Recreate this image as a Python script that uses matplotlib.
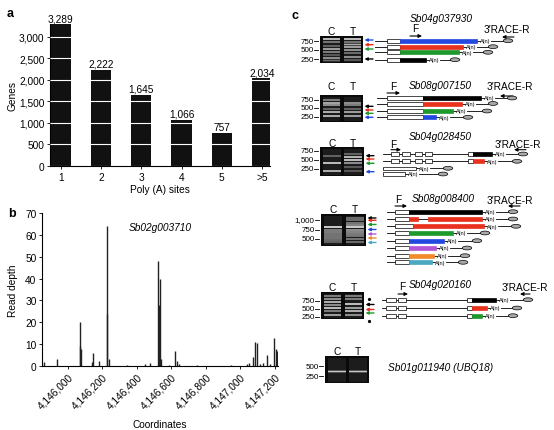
import matplotlib
matplotlib.use("Agg")
import matplotlib.pyplot as plt
from matplotlib.patches import Rectangle, Ellipse
from matplotlib.ticker import FuncFormatter

plt.rcParams["font.family"] = ["Liberation Sans", "DejaVu Sans"]
plt.rcParams["font.size"] = 7

W, H = 554, 431

# --- panel a data ---
site_labels = ["1", "2", "3", "4", "5", ">5"]
gene_counts = [3289, 2222, 1645, 1066, 757, 2034]

# --- panel b data ---
b_gene = "Sb02g003710"
peak_coords = [4145861, 4145936, 4146070, 4146072, 4146075, 4146139, 4146145,
               4146180, 4146226, 4146228, 4146238, 4146342, 4146446, 4146475,
               4146522, 4146533, 4146530, 4146539, 4146585, 4146620, 4146632,
               4146643, 4146748, 4146945, 4147038, 4147049, 4147072, 4147084,
               4147096, 4147113, 4147130, 4147154, 4147171, 4147194, 4147206,
               4147217]
peak_depths = [2, 3, 20, 9, 8, 2, 6,
               2.5, 64, 24, 3, 0.5, 1, 1.5,
               48, 40, 28, 3, 0.5, 7, 2.5,
               1, 0.5, 0.5, 1, 1.5, 4, 11,
               10.5, 1, 1.5, 5, 1, 13, 8,
               7]
coord_ticks = [4146000, 4146200, 4146400, 4146600, 4146800, 4147000, 4147200]

# --- panel c data ---
BLUE, RED, GREEN, BLACK = "#2349e0", "#e8321e", "#1e9a2c", "#000000"
PURPLE, ORANGE, TEAL = "#b455d6", "#f08a2a", "#4aa8c0"

gene_names = ["Sb04g037930", "Sb08g007150", "Sb04g028450", "Sb08g008400", "Sb04g020160"]
control_name = "Sb01g011940 (UBQ18)"

gel_markers = [
    [("750", 42), ("500", 50.5), ("250", 60)],
    [("750", 101), ("500", 108.7), ("250", 117.7)],
    [("750", 151.7), ("500", 160.7), ("250", 170)],
    [("1,000", 220.7), ("750", 230.7), ("500", 240)],
    [("750", 302), ("500", 310), ("250", 318)],
    [("500", 367.3), ("250", 377.3)],
]
gel_arrows = [
    [(BLUE, 41), (RED, 45.7), (GREEN, 50), (BLACK, 60)],
    [(BLACK, 107.3), (RED, 111), (GREEN, 114.3), (BLUE, 118.3)],
    [(BLACK, 156.7), (RED, 160), (GREEN, 164.3), (BLUE, 172.7)],
    [(BLACK, 219), (RED, 221.3), (GREEN, 225.5), (BLUE, 230.5), (PURPLE, 235), (ORANGE, 239), (TEAL, 243.5)],
    [(BLACK, 305.5), (RED, 310.5), (GREEN, 314)],
    [],
]
# (y, intensity) per lane
bands_c = [
    [(40, .9), (43, .45), (47, .35), (50, .7), (53, .5), (56, .3), (59, .6), (61.5, .4)],
    [(101, .5), (104, .75), (106, .6), (110, .35), (113, .8), (117, .8)],
    [(157, .35), (164, .9), (172, .8)],
    [(228, 1), (231, .5), (233, .5), (235, .45), (237, .45), (239, .45), (241, .4), (243, .35)],
    [(297, .5), (300, .6), (303, .8), (306, .6), (309, .9), (312, .5), (316, .7)],
    [(372.7, 1)],
]
bands_t = [
    [(40, .9), (43, .45), (45.5, .8), (48, .7), (51, .6), (54, .4), (58, .6), (61, .3)],
    [(104, .6), (106, .5), (110, .35), (113, .7), (117, .7)],
    [(155, .35), (158, .85), (161, .9), (164, .6), (168, .3), (172, .3)],
    [(219, .4), (221, .4), (224, .45), (226, .55), (228, 1), (231, .6), (233, .55), (235, .5),
     (237, .45), (240, .45), (243, .4)],
    [(297, .5), (300, .5), (305, .9), (309, .7), (312, .8), (316, .6)],
    [(372.7, 1)],
]

# transcript isoforms: bar colour and 3' end / polyA-tail positions
iso1_colors = [BLUE, RED, GREEN, BLACK]
iso1_ends = [477, 463, 459, 426]
iso2_colors = [BLACK, RED, GREEN, BLUE]
iso2_ends = [481, 462, 453, 436]
iso3_ends = [492, 484, 416, 405]
iso4_colors = [BLACK, RED, RED, GREEN, BLUE, PURPLE, ORANGE, TEAL]
iso4_ends = [482, 482, 484, 453, 444, 436, 434, 432]
iso5_colors = [BLACK, RED, GREEN]
iso5_ends = [496, 487, 482]


fig = plt.figure(figsize=(W / 100, H / 100), dpi=100)


def frac(x0, y0, x1, y1):
    return [x0 / W, 1 - y1 / H, (x1 - x0) / W, (y1 - y0) / H]


comma = FuncFormatter(lambda v, p: f"{int(v):,}")

# overlay in pixel coordinates for the diagrams of panel c
ov = fig.add_axes([0, 0, 1, 1])
ov.set_xlim(0, W)
ov.set_ylim(H, 0)
ov.axis("off")

# --- a ---
ax = fig.add_axes(frac(50, 25, 270, 167))
xs = range(1, len(gene_counts) + 1)
ax.bar(xs, gene_counts, width=0.5, color="#111111")
for x, v in zip(xs, gene_counts):
    ax.annotate(f"{v:,}", (x, v), xytext=(0, 1), textcoords="offset points",
                ha="center", va="bottom", fontsize=7.3)
ax.set_xlim(0.73, 6.2)
ax.set_ylim(0, 3300)
ax.set_xticks(list(xs))
ax.set_xticklabels(site_labels)
ax.set_yticks(range(0, 3001, 500))
ax.yaxis.set_major_formatter(comma)
ax.yaxis.grid(True, color="white", lw=0.8)
ax.set_axisbelow(False)
for s in ("top", "right"):
    ax.spines[s].set_visible(False)
ax.tick_params(length=2, width=0.6, pad=2, labelsize=7.3)
ax.set_xlabel("Poly (A) sites", labelpad=2, fontsize=7.3)
ax.set_ylabel("Genes", labelpad=1, fontsize=7.3)

# --- b ---
bx = fig.add_axes(frac(42, 214, 278, 367))
bx.vlines(peak_coords, 0, peak_depths, color="#222222", lw=1.0)
bx.set_xlim(4145849, 4147220)
bx.set_ylim(0, 70)
bx.set_yticks(range(0, 71, 10))
bx.set_xticks(coord_ticks)
bx.xaxis.set_major_formatter(comma)
plt.setp(bx.get_xticklabels(), rotation=45, ha="right", rotation_mode="anchor")
for s in ("top", "right"):
    bx.spines[s].set_visible(False)
bx.tick_params(length=2, width=0.6, pad=2, labelsize=7.3)
bx.set_xlabel("Coordinates", labelpad=6, fontsize=7.3)
bx.set_ylabel("Read depth", labelpad=5, fontsize=7.3)
bx.text(0.5, 0.908, b_gene, transform=bx.transAxes, ha="center", va="center",
        style="italic", fontsize=7.3)

# panel letters
for lab, x, y in (("a", 10, 14), ("b", 12, 214), ("c", 295, 16)):
    ov.text(x, y, lab, fontsize=9, fontweight="bold", ha="center", va="center")

# --- c ---
gel_boxes = [(320, 37, 363, 64), (320, 96, 363, 123), (320, 148, 364, 177),
             (321, 215, 366, 247), (321, 293, 364, 320), (325, 357, 369, 384)]
lane_label_y = [32, 87, 144, 210, 288, 352.5]

for i, (x0, y0, x1, y1) in enumerate(gel_boxes):
    w = x1 - x0
    ov.add_patch(Rectangle((x0, y0), w, y1 - y0, facecolor="#0a0a0a", edgecolor="none"))
    for lane, bands in ((0, bands_c[i]), (1, bands_t[i])):
        lx = x0 + w * (0.06 + lane * 0.49)
        lw = w * 0.41
        ov.add_patch(Rectangle((lx, y0 + 1.5), lw, y1 - y0 - 3, facecolor="#1c1c1c", edgecolor="none"))
        for by, inten in bands:
            # soft halo then brighter core
            ov.add_patch(Rectangle((lx, by - 1.4), lw, 2.8, facecolor="#d8d8d8",
                                   alpha=inten * 0.3, edgecolor="none"))
            ov.add_patch(Rectangle((lx, by - 0.6), lw, 1.2, facecolor="#eeeeee",
                                   alpha=inten * 0.75, edgecolor="none"))
        ov.text(lx + lw / 2, lane_label_y[i], "CT"[lane], fontsize=7.3, ha="center", va="center")
    for lab, my in gel_markers[i]:
        ov.plot([x0 - 6, x0 - 2], [my, my], color="black", lw=0.6)
        ov.text(x0 - 6.5, my, lab, fontsize=5.8, ha="right", va="center")
    for col, ay in gel_arrows[i]:
        ov.annotate("", xy=(x1 + 1.5, ay), xytext=(x1 + 10, ay),
                    arrowprops=dict(arrowstyle="-|>", color=col, lw=1.0,
                                    mutation_scale=4, shrinkA=0, shrinkB=0))

ov.plot([369, 369], [299.5, 321.5], ls="none", marker="o", ms=1.3, color="black")
ov.text(388, 367.7, control_name, fontsize=7.3, style="italic", ha="left", va="center")


def draw_row(y, start, boxes, tail, ell, bh=4.0):
    ov.plot([start, tail + 2.5], [y, y], color="black", lw=0.6, zorder=2)
    for bx0, bx1, fc in boxes:
        ec = "black" if fc == "white" else fc
        ov.add_patch(Rectangle((bx0, y - bh / 2), bx1 - bx0, bh, facecolor=fc,
                               edgecolor=ec, lw=0.5, zorder=3))
    ov.text(tail + 2.7, y, "A(n)", fontsize=4, ha="left", va="center", zorder=3)
    ov.plot([tail + 13.5, ell - 4.8], [y, y], color="black", lw=0.6, zorder=2)
    ov.add_patch(Ellipse((ell, y), 9.5, 3.8, facecolor="#a8a8a8", edgecolor="black",
                         lw=0.5, zorder=3))


def draw_header(k, gx, gy, fx, fy, fa, rx, ry, ra):
    ov.text(gx, gy, gene_names[k], fontsize=7.3, style="italic", ha="center", va="center")
    ov.text(fx, fy, "F", fontsize=7.3, ha="center", va="center")
    ov.annotate("", xy=(fa[1], fa[2]), xytext=(fa[0], fa[2]),
                arrowprops=dict(arrowstyle="-|>", color="black", lw=0.8,
                                mutation_scale=5, shrinkA=0, shrinkB=0))
    ov.text(rx, ry, "3\u2032RACE-R", fontsize=7.3, ha="center", va="center")
    ov.annotate("", xy=(ra[1], ra[2]), xytext=(ra[0], ra[2]),
                arrowprops=dict(arrowstyle="-|>", color="black", lw=0.8,
                                mutation_scale=5, shrinkA=0, shrinkB=0))


# block 1
draw_header(0, 441, 19, 415, 29.5, (410, 422, 37), 507, 30, (514, 502, 38))
for y, col, end, ell in zip([41.7, 47.7, 53.3, 60.7], iso1_colors, iso1_ends, [508, 493, 488, 455]):
    draw_row(y, 375, [(387, 400, "white"), (400, end, col)], end, ell)

# block 2
draw_header(1, 440, 86, 393, 87, (387, 400, 94), 510, 87, (513, 500, 97))
for y, col, end, ell in zip([99, 104.5, 112, 118.3], iso2_colors, iso2_ends, [512, 493, 487, 468]):
    draw_row(y, 377, [(387, 423, "white"), (423, end, col)], end, ell)

# block 3
draw_header(2, 440, 137, 393, 145, (391, 401, 150.7), 518, 145, (526, 514, 150.7))
exons3 = [(391, 399, "white"), (402, 410, "white"), (415, 422, "white"), (425, 432, "white")]
draw_row(155, 383, exons3 + [(468, 473, "white"), (473, iso3_ends[0], BLACK)], iso3_ends[0], 523)
draw_row(162.3, 383, exons3 + [(468, 473, "white"), (473, iso3_ends[1], RED)], iso3_ends[1], 517)
draw_row(169.3, 383, [(383, iso3_ends[2], "white")], iso3_ends[2], 448, bh=3.2)
draw_row(175, 383, [(383, iso3_ends[3], "white")], iso3_ends[3], 443, bh=3.2)

# block 4
draw_header(3, 443, 199, 398, 200, (395, 407, 207), 510, 200.7, (520, 508, 207))
rows4_y = [212.7, 220, 227.3, 234, 241.7, 249, 256.7, 263.3]
rows4_ell = [513, 513, 516, 485, 477, 467, 465, 463]
for i, (y, col, end, ell) in enumerate(zip(rows4_y, iso4_colors, iso4_ends, rows4_ell)):
    if i == 1:
        boxes = [(395, 409, "white"), (409, 418, col), (428, end, col)]
    elif i == 2:
        boxes = [(395, 413, "white"), (413, end, col)]
    else:
        boxes = [(395, 409, "white"), (409, end, col)]
    draw_row(y, 387, boxes, end, ell)

# block 5
draw_header(4, 440, 285, 402, 287, (398, 408, 295), 525, 288, (530, 520, 295))
exons5 = [(386, 396, "white"), (398, 406, "white"), (467, 472, "white")]
for y, col, end, ell in zip([300.7, 309, 316.7], iso5_colors, iso5_ends, [528, 517, 513]):
    draw_row(y, 382, exons5 + [(472, end, col)], end, ell)

fig.savefig("out.png", dpi=100)
